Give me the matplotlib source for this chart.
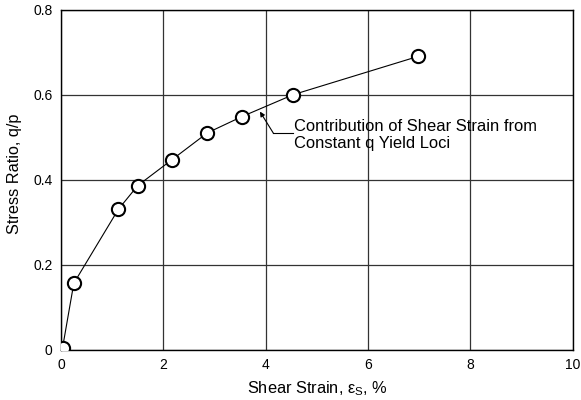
import matplotlib
matplotlib.use("Agg")
import matplotlib.pyplot as plt

plt.rcParams["font.family"] = ["Liberation Sans", "DejaVu Sans"]
plt.rcParams["mathtext.fontset"] = "custom"
plt.rcParams["mathtext.rm"] = "Liberation Sans"
plt.rcParams["mathtext.it"] = "Liberation Sans"

# shear strain (%) vs stress ratio q/p
shear_strain = [0.03, 0.25, 1.12, 1.5, 2.17, 2.86, 3.53, 4.54, 6.98]
stress_ratio = [0.004, 0.156, 0.33, 0.386, 0.447, 0.51, 0.548, 0.6, 0.69]

x_ticks = [0, 2, 4, 6, 8, 10]
y_ticks = [0, 0.2, 0.4, 0.6, 0.8]
y_tick_labels = ["0", "0.2", "0.4", "0.6", "0.8"]

fig = plt.figure(figsize=(5.81, 4.0), dpi=100)
ax = fig.add_axes([0.105, 0.126, 0.881, 0.85])

ax.plot(shear_strain, stress_ratio, color="black", linewidth=0.8,
        marker="o", markersize=9.5, markerfacecolor="white",
        markeredgecolor="black", markeredgewidth=1.5, zorder=3)

ax.set_xlim(0, 10)
ax.set_ylim(0, 0.8)
ax.set_xticks(x_ticks)
ax.set_yticks(y_ticks)
ax.set_yticklabels(y_tick_labels)
ax.tick_params(length=0, labelsize=10, pad=6)
ax.grid(True, color="#333333", linewidth=0.9)
ax.set_axisbelow(True)
for s in ax.spines.values():
    s.set_color("black")
    s.set_linewidth(1.0)

ax.set_xlabel(r"Shear Strain, $\varepsilon_\mathrm{S}$, %", fontsize=11.8, labelpad=5)
ax.set_ylabel("Stress Ratio, q/p", fontsize=11.7)
ax.yaxis.set_label_coords(-0.076, 0.516)

# annotation with elbow leader
ax.annotate("", xy=(3.887, 0.56), xytext=(4.15, 0.509),
            arrowprops=dict(arrowstyle="-|>", color="black", lw=0.8,
                            mutation_scale=7, shrinkA=0, shrinkB=0))
ax.plot([4.15, 4.53], [0.509, 0.509], color="black", linewidth=0.8)
ax.text(4.56, 0.505, "Contribution of Shear Strain from\nConstant q Yield Loci",
        fontsize=11.9, va="center", ha="left", linespacing=1.2,
        color="black")

fig.savefig("out.png", dpi=100)
